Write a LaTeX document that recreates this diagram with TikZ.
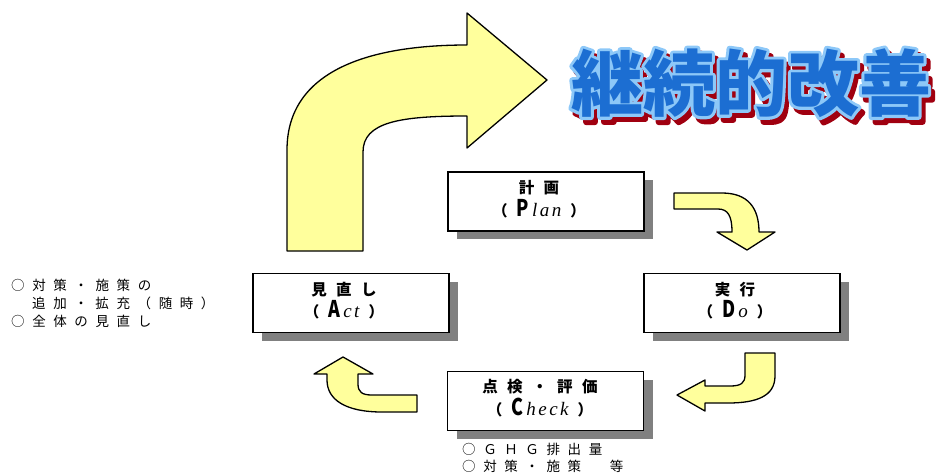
\documentclass[tikz,border=0pt]{standalone}
\usepackage{fontspec}
\usepackage{graphicx}
\setmainfont{Liberation Serif}
\newfontfamily\jp{Noto Sans CJK JP}
\usetikzlibrary{shadows,calc}
\definecolor{arrowfill}{HTML}{FFFF9C}
\definecolor{ttlblue}{HTML}{1C6ED2}
\definecolor{ttlline}{HTML}{8DC8F8}
\definecolor{ttlred}{HTML}{A00010}
\makeatletter
\newcommand\spacedtxt[2]{\def\my@sp{#1}\my@first#2\@nil}
\def\my@first#1{#1\my@loop}
\def\my@loop#1{\ifx#1\@nil\else\hspace{\my@sp}#1\expandafter\my@loop\fi}
\makeatother
\newcommand\strokedtxt[2]{\special{pdf:literal direct q #1}#2\special{pdf:literal direct Q}}
\newcommand\pdcalabel[3]{%
  {\jp\bfseries\fontsize{15.5}{15.5}\selectfont\spacedtxt{9.5pt}{#1}}\\[3pt]
  {\jp\bfseries\fontsize{15}{15}\selectfont （}\hspace{9pt}%
  \scalebox{0.78}[1]{\jp\bfseries\fontsize{23}{23}\selectfont #2}\hspace{3pt}%
  {\fontsize{19}{19}\selectfont\itshape #3}\hspace{9pt}%
  {\jp\bfseries\fontsize{15}{15}\selectfont ）}}
\begin{document}
\begin{tikzpicture}[x=1pt,y=-1pt,
  pdcabox/.style={draw=black, line width=1.8pt, fill=white, minimum width=196pt,
    minimum height=59pt, inner sep=0pt,
    drop shadow={shadow xshift=9pt, shadow yshift=-8pt, fill=black!50, opacity=1}},
  boxtext/.style={align=center, inner sep=0pt},
  bentarrow/.style={draw=black, line width=1.3pt, fill=arrowfill, line join=round},
  note/.style={font=\jp\fontsize{13.5}{13.5}\selectfont, inner sep=0pt, anchor=west},
  ttl/.style={font=\jp\bfseries\fontsize{72}{72}\selectfont, inner sep=0pt}]
\useasboundingbox (0,0) rectangle (943,472);

% big arrow
\draw[bentarrow] (287,251) -- (287,150)
  .. controls (287,70) and (370,45) .. (467,45)
  -- (467,13) -- (547,80) -- (467,148) -- (467,116)
  .. controls (400,116) and (363,122) .. (363,152)
  -- (363,251) -- cycle;

% title: shadow, light outline, blue fill
\node[ttl,text=ttlred] (titleshadow) at (755,88) {\strokedtxt{2 Tr 6 w 1 j}{継続的改善}};
\node[ttl,text=ttlline] (titleline) at (751,83) {\strokedtxt{1 Tr 6 w 1 j}{継続的改善}};
\node[ttl,text=ttlblue] (title) at (751,83) {継続的改善};

% boxes
\node[pdcabox] (plan) at (546,201.5) {};
\node[boxtext] (plant) at (539,199) {\pdcalabel{計画}{P}{l\hspace{2.5pt}a\hspace{2.5pt}n}};
\node[pdcabox] (do) at (742,303) {};
\node[boxtext] (dot) at (735,300.5) {\pdcalabel{実行}{D}{o}};
\node[pdcabox] (check) at (545.5,401) {};
\node[boxtext] (checkt) at (540,398.5) {\pdcalabel{点検・評価}{C}{h\hspace{2.5pt}e\hspace{2.5pt}c\hspace{2.5pt}k}};
\node[pdcabox] (act) at (351,303) {};
\node[boxtext] (actt) at (344,300.5) {\pdcalabel{見直し}{A}{c\hspace{2.5pt}t}};

% small arrows
\draw[bentarrow] (674,193) -- (722,193)
  .. controls (748,193) and (759,208) .. (759,232)
  -- (775,232) -- (747,250) -- (717,232) -- (732,232)
  .. controls (732,216) and (728,209) .. (718,209)
  -- (674,209) -- cycle;
\draw[bentarrow] (745,353) -- (775,353) -- (775,376)
  .. controls (775,396) and (757,403) .. (728,403)
  -- (705,403) -- (705,411) -- (677,395) -- (705,380) -- (705,386)
  -- (730,386) .. controls (741,386) and (745,383) .. (745,375) -- cycle;
\draw[bentarrow] (417,395) -- (417,412) -- (382,412)
  .. controls (346,412) and (327,400) .. (327,380)
  -- (327,374) -- (314,374) -- (343,357) -- (373,374) -- (358,374)
  -- (358,384) .. controls (358,392) and (362,395) .. (372,395) -- cycle;

% notes
\node[note] (n1) at (11,285) {\spacedtxt{7.6pt}{○対策・施策の}};
\node[note] (n2) at (32,303) {\spacedtxt{7.6pt}{追加・拡充（随時）}};
\node[note] (n3) at (11,321) {\spacedtxt{7.6pt}{○全体の見直し}};
\node[note] (n4) at (462,449) {\spacedtxt{7.6pt}{○ＧＨＧ排出量}};
\node[note] (n5) at (462,466) {\spacedtxt{7.6pt}{○対策・施策　等}};
\end{tikzpicture}
\end{document}
